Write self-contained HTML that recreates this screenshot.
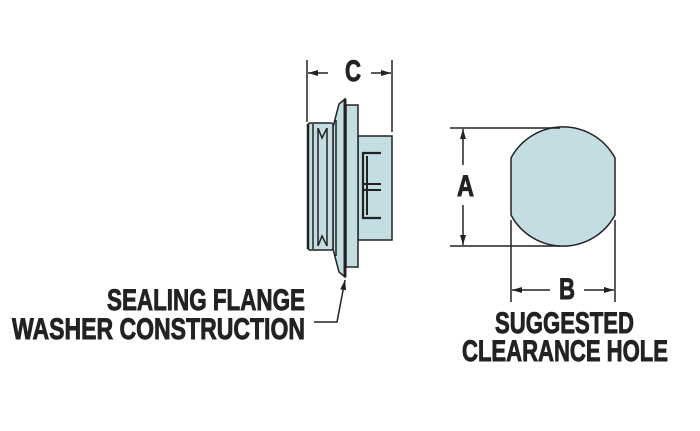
<!DOCTYPE html>
<html><head><style>html,body{margin:0;padding:0;background:#fff}svg{display:block}</style></head><body>
<svg width="700" height="431" viewBox="0 0 700 431" xmlns="http://www.w3.org/2000/svg">
<defs><marker id="ah" markerWidth="10" markerHeight="6" refX="10" refY="3" orient="auto" markerUnits="userSpaceOnUse"><path d="M0,0 L10,3 L0,6 Z" fill="#222"/></marker></defs>
<g stroke="#222" fill="none" stroke-width="1.5">
<line x1="307" y1="60" x2="307" y2="122"/>
<line x1="392" y1="60" x2="392" y2="132"/>
<line x1="328" y1="73" x2="308" y2="73" marker-end="url(#ah)"/>
<line x1="371" y1="73" x2="391" y2="73" marker-end="url(#ah)"/>
</g>
<g stroke="#222" stroke-width="1.5" fill="#c3dde3">
<rect x="358" y="136" width="34" height="104"/>
<path d="M381 153 H363 V218 H381" fill="none" stroke-width="2.2"/>
<line x1="367" y1="156" x2="367" y2="215" stroke-width="2"/>
<path d="M363 184 H381 M363 190 H381" fill="none" stroke-width="2"/>
<rect x="346" y="105" width="12" height="162"/>
<path d="M333 127 L339 104 L345 99 L345 277 L339 272 L333 249 Z"/>
<rect x="308" y="123" width="25" height="127" rx="2"/>
<line x1="313" y1="124" x2="313" y2="249"/>
<line x1="318" y1="128" x2="318" y2="246"/>
<line x1="327" y1="128" x2="327" y2="246"/>
<path d="M318 128 L322 138 L327 128" />
<path d="M318 246 L322 236 L327 246" />
<line x1="336" y1="120" x2="336" y2="256"/>
</g>
<line x1="308" y1="124" x2="308" y2="249" stroke="#222" stroke-width="2.5"/>
<line x1="345" y1="99" x2="345" y2="277" stroke="#222" stroke-width="3"/>
<polyline points="314,322 337,322 345,280" fill="none" stroke="#222" stroke-width="1.5" marker-end="url(#ah)"/>
<path d="M511 158 A59 59 0 0 1 615 158 L615 215 A59 59 0 0 1 511 215 Z" fill="#c3dde3" stroke="#222" stroke-width="1.5"/>
<g stroke="#222" stroke-width="1.5" fill="none">
<line x1="450" y1="128" x2="560" y2="128"/>
<line x1="450" y1="246" x2="560" y2="246"/>
<line x1="463" y1="165" x2="463" y2="129" marker-end="url(#ah)"/>
<line x1="463" y1="205" x2="463" y2="245" marker-end="url(#ah)"/>
<line x1="511" y1="220" x2="511" y2="302"/>
<line x1="615" y1="220" x2="615" y2="302"/>
<line x1="550" y1="290" x2="512" y2="290" marker-end="url(#ah)"/>
<line x1="584" y1="290" x2="614" y2="290" marker-end="url(#ah)"/>
</g>
<g font-family="Liberation Sans, sans-serif" font-weight="bold" fill="#222" stroke="#222" stroke-width="0.9" font-size="30">
<text x="345" y="81" textLength="16" lengthAdjust="spacingAndGlyphs">C</text>
<text x="457" y="196" textLength="17" lengthAdjust="spacingAndGlyphs">A</text>
<text x="559" y="299" textLength="16" lengthAdjust="spacingAndGlyphs">B</text>
<text x="107" y="310" textLength="198" lengthAdjust="spacingAndGlyphs">SEALING FLANGE</text>
<text x="12" y="339" textLength="293" lengthAdjust="spacingAndGlyphs">WASHER CONSTRUCTION</text>
<text x="495" y="333" textLength="139" lengthAdjust="spacingAndGlyphs">SUGGESTED</text>
<text x="462" y="361" textLength="206" lengthAdjust="spacingAndGlyphs">CLEARANCE HOLE</text>
</g>
</svg>
</body></html>
